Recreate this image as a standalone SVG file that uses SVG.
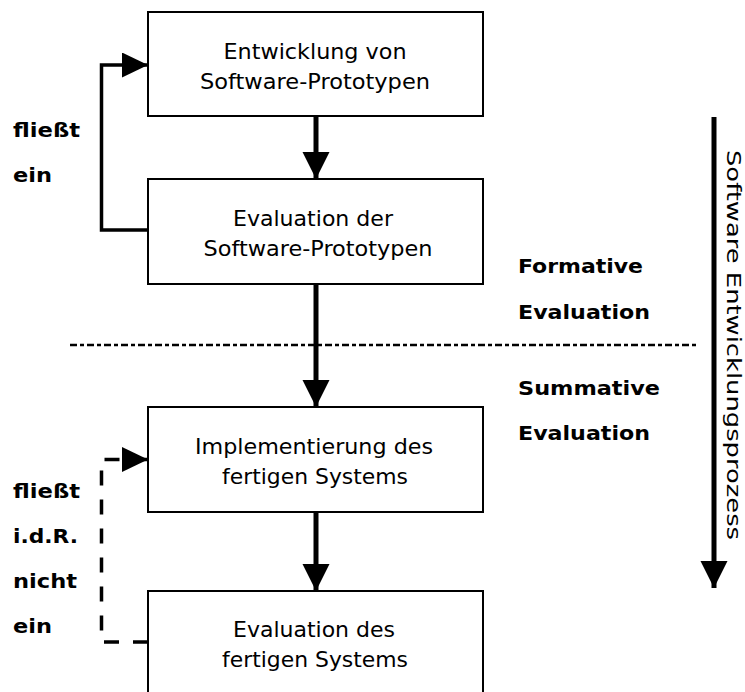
<svg xmlns="http://www.w3.org/2000/svg" width="745" height="692" viewBox="0 0 745 692">
<style>
.box{fill:#fff;stroke:#000;stroke-width:2}
.t{font-family:"DejaVu Sans",Verdana,sans-serif;font-size:21px;fill:#000;text-anchor:middle}
.v{font-family:"DejaVu Sans",Verdana,sans-serif;font-size:19px;fill:#000;text-anchor:middle}
.b{font-family:"DejaVu Sans",Verdana,sans-serif;font-size:20px;font-weight:bold;fill:#000}
.main{stroke:#000;stroke-width:5;fill:none}
.loop{stroke:#000;stroke-width:3.5;fill:none}
</style>
<defs>
<marker id="ah" markerUnits="userSpaceOnUse" markerWidth="28" markerHeight="28" refX="27" refY="13.5" orient="auto" viewBox="0 0 28 28">
<path d="M0,0 L27,13.5 L0,27 z" fill="#000"/>
</marker>
<marker id="ahs" markerUnits="userSpaceOnUse" markerWidth="27" markerHeight="26" refX="26" refY="12.5" orient="auto" viewBox="0 0 27 26">
<path d="M0,0 L26,12.5 L0,25 z" fill="#000"/>
</marker>
</defs>
<rect width="745" height="692" fill="#fff"/>

<g id="connectors">
<line class="main" x1="316" y1="116" x2="316" y2="179" marker-end="url(#ah)"/>
<line class="main" x1="316" y1="284" x2="316" y2="407" marker-end="url(#ah)"/>
<line class="main" x1="316" y1="512" x2="316" y2="591" marker-end="url(#ah)"/>
<path class="loop" d="M148,230 H101.5 V65 H148" marker-end="url(#ahs)"/>
<path class="loop" d="M148,642 H101.5 V459.5 H148" stroke-dasharray="15 14" marker-end="url(#ahs)"/>
<line class="main" x1="714" y1="117" x2="714" y2="588" marker-end="url(#ah)"/>
</g>

<line id="divider" x1="70" y1="345" x2="697" y2="345" stroke="#000" stroke-width="2.7" stroke-dasharray="7 3 4 3"/>

<g id="n1">
<rect class="box" x="148" y="12" width="335" height="104"/>
<text class="t" x="315" y="59" textLength="183" lengthAdjust="spacingAndGlyphs">Entwicklung von</text>
<text class="t" x="315" y="89" textLength="230" lengthAdjust="spacingAndGlyphs">Software-Prototypen</text>
</g>
<g id="n2">
<rect class="box" x="148" y="179" width="335" height="105"/>
<text class="t" x="313" y="226" textLength="160" lengthAdjust="spacingAndGlyphs">Evaluation der</text>
<text class="t" x="318" y="256" textLength="229" lengthAdjust="spacingAndGlyphs">Software-Prototypen</text>
</g>
<g id="n3">
<rect class="box" x="148" y="407" width="335" height="105"/>
<text class="t" x="314" y="454" textLength="238" lengthAdjust="spacingAndGlyphs">Implementierung des</text>
<text class="t" x="315" y="484" textLength="186" lengthAdjust="spacingAndGlyphs">fertigen Systems</text>
</g>
<g id="n4">
<rect class="box" x="148" y="591" width="335" height="120"/>
<text class="t" x="314" y="637" textLength="162" lengthAdjust="spacingAndGlyphs">Evaluation des</text>
<text class="t" x="315" y="667" textLength="186" lengthAdjust="spacingAndGlyphs">fertigen Systems</text>
</g>

<g id="labels">
<text class="b" x="13" y="137" textLength="67" lengthAdjust="spacingAndGlyphs">fließt</text>
<text class="b" x="13" y="182" textLength="39" lengthAdjust="spacingAndGlyphs">ein</text>
<text class="b" x="13" y="498" textLength="67" lengthAdjust="spacingAndGlyphs">fließt</text>
<text class="b" x="13" y="543" textLength="65" lengthAdjust="spacingAndGlyphs">i.d.R.</text>
<text class="b" x="13" y="588" textLength="64" lengthAdjust="spacingAndGlyphs">nicht</text>
<text class="b" x="13" y="633" textLength="39" lengthAdjust="spacingAndGlyphs">ein</text>
<text class="b" x="518" y="273" textLength="125" lengthAdjust="spacingAndGlyphs">Formative</text>
<text class="b" x="518" y="319" textLength="132" lengthAdjust="spacingAndGlyphs">Evaluation</text>
<text class="b" x="518" y="395" textLength="142" lengthAdjust="spacingAndGlyphs">Summative</text>
<text class="b" x="518" y="440" textLength="132" lengthAdjust="spacingAndGlyphs">Evaluation</text>
<text class="v" transform="translate(727,345) rotate(90)" x="0" y="0" textLength="390" lengthAdjust="spacingAndGlyphs">Software Entwicklungsprozess</text>
</g>
</svg>
